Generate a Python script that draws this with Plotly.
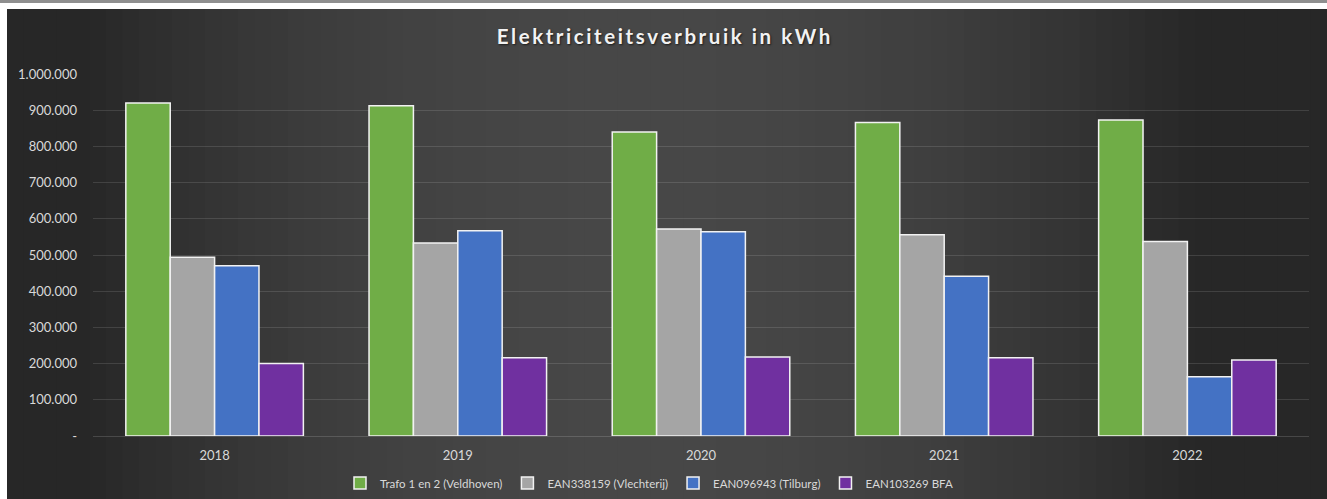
import plotly.graph_objects as go

years = ["2018", "2019", "2020", "2021", "2022"]
trafo = [920000, 912000, 840000, 866000, 873000]
vlechterij = [494000, 533000, 572000, 556000, 537000]
tilburg = [470000, 567000, 564000, 441000, 164000]
bfa = [200000, 216000, 218000, 216000, 210000]

series_names = ["Trafo 1 en 2 (Veldhoven)", "EAN338159 (Vlechterij)", "EAN096943 (Tilburg)", "EAN103269 BFA"]
series_values = [trafo, vlechterij, tilburg, bfa]
series_colors = ["#70ad47", "#a5a5a5", "#4472c4", "#7030a0"]

tick_vals = [0, 100000, 200000, 300000, 400000, 500000, 600000, 700000, 800000, 900000, 1000000]
tick_text = ["-", "100.000", "200.000", "300.000", "400.000", "500.000", "600.000", "700.000", "800.000", "900.000", "1.000.000"]

title_text = "Elektriciteitsverbruik in kWh"

W, H = 1327, 499
L, R, T, B = 93, 18, 74, 63
pw, ph = W - L - R, H - T - B

def px2x(px):
    return (px - L) / pw

def py2y(py):
    return (H - B - py) / ph

fig = go.Figure()
for name, vals, col in zip(series_names, series_values, series_colors):
    fig.add_trace(go.Bar(
        x=years, y=vals, name=name,
        marker=dict(color=col, line=dict(color="#f2f2f2", width=1.5)),
    ))

shapes = []
# top gray band
shapes.append(dict(type="rect", xref="paper", yref="paper", layer="below",
                   x0=px2x(0), x1=px2x(W), y0=py2y(3), y1=py2y(0),
                   fillcolor="#8f8f8f", line=dict(width=0)))

def shade(px):
    c = 640.0
    d = (px - c) / 700.0
    v = 0x47 - (0x47 - 0x27) * min(1.0, d * d * 1.6)
    return int(round(v))

n = 80
x_start, x_end = 7, W
for i in range(n):
    a = x_start + (x_end - x_start) * i / n
    b = x_start + (x_end - x_start) * (i + 1) / n
    v = shade((a + b) / 2)
    col = "rgb(%d,%d,%d)" % (v, v, v)
    shapes.append(dict(type="rect", xref="paper", yref="paper", layer="below",
                       x0=px2x(a), x1=px2x(b) + 0.001, y0=py2y(H), y1=py2y(9),
                       fillcolor=col, line=dict(width=0)))

spaced_title = "\u200a\u200a".join(list(title_text))

fig.update_layout(
    width=W, height=H,
    margin=dict(l=L, r=R, t=T, b=B, pad=0, autoexpand=False),
    paper_bgcolor="#ffffff",
    plot_bgcolor="rgba(0,0,0,0)",
    shapes=shapes,
    barmode="group",
    bargap=0.27,
    bargroupgap=0,
    title=dict(text="<b>" + spaced_title + "</b>", x=0.5, xanchor="center",
               y=1 - 37 / H, yanchor="middle",
               font=dict(family="Lato", size=20.5, color="#f2f2f2",
                         shadow="1px 1px 2px rgba(0,0,0,0.6)")),
    font=dict(family="Lato", color="#d9d9d9", size=13),
    xaxis=dict(showgrid=False, showline=False, ticks="", automargin=False,
               tickfont=dict(size=13, color="#d9d9d9"), ticklabelstandoff=10),
    yaxis=dict(range=[0, 1000000], tickvals=tick_vals, ticktext=tick_text, automargin=False,
               showgrid=True, gridcolor="rgba(255,255,255,0.12)", gridwidth=1,
               zeroline=True, zerolinecolor="rgba(255,255,255,0.15)", zerolinewidth=1,
               showline=False, ticks="", tickfont=dict(size=13, color="#d9d9d9"),
               ticklabelstandoff=15),
    legend=dict(orientation="h", x=px2x(340), xanchor="left", y=py2y(483), yanchor="middle",
                font=dict(size=11.5, color="#d9d9d9"), bgcolor="rgba(0,0,0,0)",
                itemwidth=30, traceorder="normal"),
    showlegend=True,
)

fig.write_html("out.html", config={"displayModeBar": False},
               post_script="document.body.style.margin='0';document.body.style.overflow='hidden';")
